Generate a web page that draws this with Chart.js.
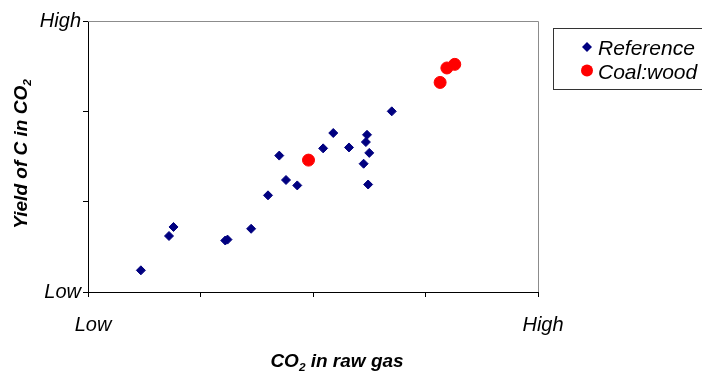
<!DOCTYPE html>
<html>
<head>
<meta charset="utf-8">
<script src="https://cdn.jsdelivr.net/npm/chart.js@4/dist/chart.umd.min.js"></script>
<style>
  html, body { margin: 0; padding: 0; background: #fff; }
  #wrap { width: 702px; height: 381px; position: relative; }
</style>
</head>
<body>
<div id="wrap"><canvas id="chart"></canvas></div>
<script>
// Axis ticks (0..4 on x, 0..3 on y, only the ends are labelled)
const xTickLabels = ['Low', '', '', '', 'High'];
const yTickLabels = ['Low', '', '', 'High'];

// Reference points
const refX = [0.47, 0.72, 0.76, 1.22, 1.24, 1.45, 1.60, 1.70, 1.76, 1.86,
              2.09, 2.18, 2.32, 2.45, 2.47, 2.48, 2.50, 2.49, 2.70];
const refY = [0.24, 0.62, 0.72, 0.57, 0.58, 0.70, 1.07, 1.51, 1.24, 1.18,
              1.59, 1.76, 1.60, 1.42, 1.66, 1.74, 1.54, 1.19, 2.00];

// Coal:wood points
const coalX = [1.96, 3.13, 3.19, 3.26];
const coalY = [1.46, 2.32, 2.48, 2.52];

const seriesNames = ['Reference', 'Coal:wood'];

const toPoints = (xs, ys) => xs.map((x, i) => ({ x: x, y: ys[i] }));

const FONT = 'Arial, "Liberation Sans", sans-serif';

// Gray frame on top/right of plot area
const frame = {
    id: 'frame',
    beforeDatasetsDraw(chart) {
        const { ctx, chartArea: a } = chart;
        ctx.save();
        ctx.strokeStyle = '#8c8c8c';
        ctx.lineWidth = 1;
        ctx.beginPath();
        ctx.moveTo(a.left, a.top + 0.5);
        ctx.lineTo(a.right + 0.5, a.top + 0.5);
        ctx.lineTo(a.right + 0.5, a.bottom);
        ctx.stroke();
        ctx.restore();
    }
};

// Axis titles with subscripts
function drawSub(ctx, parts, x, y, size) {
    // parts: [text, isSub]
    let total = 0;
    parts.forEach(([t, sub]) => {
        ctx.font = 'italic bold ' + (sub ? size * 0.62 : size) + 'px ' + FONT;
        total += ctx.measureText(t).width;
    });
    let cx = x - total / 2;
    parts.forEach(([t, sub]) => {
        ctx.font = 'italic bold ' + (sub ? size * 0.62 : size) + 'px ' + FONT;
        ctx.fillText(t, cx, sub ? y + size * 0.2 : y);
        cx += ctx.measureText(t).width;
    });
}

const titles = {
    id: 'titles',
    afterDraw(chart) {
        const ctx = chart.ctx;
        ctx.save();
        ctx.fillStyle = '#000';
        ctx.textAlign = 'left';
        ctx.textBaseline = 'alphabetic';
        drawSub(ctx, [['CO', false], ['2', true], [' in raw gas', false]], 337, 367, 19);
        ctx.translate(27, 154);
        ctx.rotate(-Math.PI / 2);
        drawSub(ctx, [['Yield of C in CO', false], ['2', true]], 0, 0, 19);
        ctx.restore();
    }
};

// Boxed legend at right
const boxLegend = {
    id: 'boxLegend',
    afterDraw(chart) {
        const ctx = chart.ctx;
        ctx.save();
        ctx.strokeStyle = '#333';
        ctx.lineWidth = 1;
        ctx.strokeRect(553.5, 28.5, 160, 61);
        ctx.font = 'italic 21px ' + FONT;
        ctx.textBaseline = 'alphabetic';
        chart.data.datasets.forEach((ds, i) => {
            const cy = 47 + i * 23.5;
            ctx.fillStyle = ds.backgroundColor;
            ctx.beginPath();
            if (ds.pointStyle === 'rectRot') {
                ctx.moveTo(587, cy - 5);
                ctx.lineTo(592, cy);
                ctx.lineTo(587, cy + 5);
                ctx.lineTo(582, cy);
                ctx.closePath();
            } else {
                ctx.arc(587, cy, 6, 0, Math.PI * 2);
            }
            ctx.fill();
            ctx.fillStyle = '#000';
            ctx.fillText(ds.label, 598, cy + 8);
        });
        ctx.restore();
    }
};

new Chart(document.getElementById('chart'), {
    type: 'scatter',
    data: {
        datasets: [
            {
                label: seriesNames[0],
                data: toPoints(refX, refY),
                pointStyle: 'rectRot',
                pointRadius: 4.5,
                pointHoverRadius: 4.5,
                borderWidth: 1,
                backgroundColor: '#000080',
                borderColor: '#000080'
            },
            {
                label: seriesNames[1],
                data: toPoints(coalX, coalY),
                pointStyle: 'circle',
                pointRadius: 6,
                pointHoverRadius: 6,
                borderWidth: 1,
                backgroundColor: '#ff0000',
                borderColor: '#ff0000'
            }
        ]
    },
    options: {
        responsive: true,
        maintainAspectRatio: false,
        animation: false,
        events: [],
        layout: { padding: { top: 21, right: 164, left: 0, bottom: 0 } },
        plugins: {
            legend: { display: false },
            tooltip: { enabled: false }
        },
        scales: {
            x: {
                type: 'linear',
                min: 0,
                max: 4,
                afterFit: s => { s.height = 89; },
                afterBuildTicks: s => { s.ticks = xTickLabels.map((_, i) => ({ value: i })); },
                grid: { drawOnChartArea: false, drawTicks: true, tickLength: 5, tickColor: '#000' },
                border: { display: true, color: '#000', width: 1 },
                ticks: {
                    autoSkip: false,
                    maxRotation: 0,
                    padding: 16,
                    labelOffset: 5,
                    color: '#000',
                    font: { family: FONT, size: 20, style: 'italic' },
                    callback: v => xTickLabels[v]
                }
            },
            y: {
                type: 'linear',
                min: 0,
                max: 3,
                afterFit: s => { s.width = 88; },
                afterBuildTicks: s => { s.ticks = yTickLabels.map((_, i) => ({ value: i })); },
                grid: { drawOnChartArea: false, drawTicks: true, tickLength: 5, tickColor: '#000' },
                border: { display: true, color: '#000', width: 1 },
                ticks: {
                    autoSkip: false,
                    padding: 2,
                    color: '#000',
                    font: { family: FONT, size: 20, style: 'italic' },
                    callback: v => yTickLabels[v]
                }
            }
        }
    },
    plugins: [frame, titles, boxLegend]
});
</script>
</body>
</html>
